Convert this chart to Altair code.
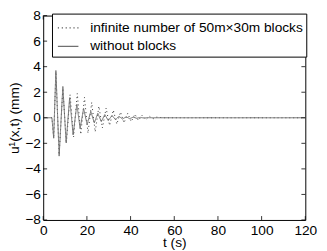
import altair as alt
import pandas as pd

# "without blocks" series (extrema)
t_wo = [0, 4.0, 4.8, 5.8, 7.3, 9.0, 10.5, 12.1, 13.7, 15.4, 16.9, 18.5, 20.1, 21.8,
        23.4, 25.0, 26.6, 28.2, 29.8, 31.5, 33.1, 34.7, 36.3, 38.0, 39.6, 41.2,
        42.8, 44.5, 46.1, 47.7, 50.0, 120]
u_wo = [0, 0, -1.6, 3.7, -3.0, 2.45, -1.95, 1.57, -1.34, 1.06, -0.83, 0.73, -0.53, 0.5,
        -0.4, 0.35, -0.3, 0.25, -0.22, 0.18, -0.15, 0.12, -0.1, 0.08, -0.07, 0.05,
        -0.04, 0.03, -0.02, 0.01, 0, 0]

# "infinite number of 50m x 30m blocks" series
t_bl = [0, 4.0, 4.8, 5.8, 7.3, 9.0, 10.6, 12.3, 13.9, 15.6, 17.2, 18.9, 20.5, 22.2,
        23.8, 25.5, 27.1, 28.8, 30.4, 32.1, 33.7, 35.4, 37.0, 38.7, 40.3, 42.0,
        43.6, 45.3, 47.0, 48.6, 50.3, 52.0, 55.0, 120]
u_bl = [0, 0, -1.6, 3.6, -2.9, 2.3, -2.0, 1.8, -1.5, 1.9, -1.3, 1.6, -1.2, 1.2,
        -1.1, 0.9, -0.8, 0.75, -0.6, 0.6, -0.5, 0.45, -0.4, 0.35, -0.3, 0.28,
        -0.22, 0.2, -0.15, 0.12, -0.08, 0.05, 0, 0]

names = ["infinite number of 50m\u00d730m blocks", "without blocks"]
x_ticks = [0, 20, 40, 60, 80, 100, 120]
y_ticks = [-8, -6, -4, -2, 0, 2, 4, 6, 8]

rows = []
for t, u in zip(t_bl, u_bl):
    rows.append({"t": t, "u": u, "series": names[0], "order": len(rows)})
for t, u in zip(t_wo, u_wo):
    rows.append({"t": t, "u": u, "series": names[1], "order": len(rows)})
df = pd.DataFrame(rows)

W, H = 268, 209
FONT = "Liberation Sans"
FS = 14

xs = alt.Scale(domain=[0, 120], nice=False)
ys = alt.Scale(domain=[-8, 8], nice=False)
x_axis = alt.Axis(values=x_ticks, title="t (s)", ticks=False, domain=False,
                  grid=False, labelFlush=False, labelOverlap=False,
                  labelPadding=4, titlePadding=-2)
y_axis = alt.Axis(values=y_ticks, title="u\u00b9(x,t) (mm)", ticks=False,
                  domain=False, grid=False, labelOverlap=False,
                  labelFlush=False, labelPadding=3, titlePadding=3)

lines = alt.Chart(df).mark_line(strokeWidth=1, clip=True).encode(
    x=alt.X("t:Q", scale=xs, axis=x_axis),
    y=alt.Y("u:Q", scale=ys, axis=y_axis),
    color=alt.Color("series:N", sort=names,
                    scale=alt.Scale(domain=names, range=["#333333", "#707070"]),
                    legend=alt.Legend(title=None, orient="none", legendX=9, legendY=-2,
                                      symbolType="stroke", symbolSize=441,
                                      symbolOffset=2,
                                      symbolStrokeWidth=1.2, labelLimit=0,
                                      labelFont=FONT, labelFontSize=FS,
                                      labelColor="black", labelOffset=11,
                                      strokeColor="black", fillColor="white",
                                      padding=3, rowPadding=-5)),
    strokeDash=alt.StrokeDash("series:N", sort=names,
                              scale=alt.Scale(domain=names, range=[[1, 3], [1, 0]]),
                              legend=None),
    order="order:Q",
)

xt = pd.DataFrame({"v": x_ticks})
yt = pd.DataFrame({"v": y_ticks})

tb = alt.Chart(xt).mark_rule(color="black", strokeWidth=0.8).encode(
    x=alt.X("v:Q", scale=xs, axis=x_axis), y=alt.value(H), y2=alt.value(H - 4))
tt = alt.Chart(xt).mark_rule(color="black", strokeWidth=0.8).encode(
    x=alt.X("v:Q", scale=xs, axis=x_axis), y=alt.value(0), y2=alt.value(4))
tl = alt.Chart(yt).mark_rule(color="black", strokeWidth=0.8).encode(
    y=alt.Y("v:Q", scale=ys, axis=y_axis), x=alt.value(0), x2=alt.value(4))
tr = alt.Chart(yt).mark_rule(color="black", strokeWidth=0.8).encode(
    y=alt.Y("v:Q", scale=ys, axis=y_axis), x=alt.value(W), x2=alt.value(W - 4))

chart = alt.layer(lines, tb, tt, tl, tr).properties(
    width=W, height=H,
    padding={"left": 36, "top": 5, "right": 14, "bottom": 30},
    autosize=alt.AutoSizeParams(type="none"),
).configure_view(stroke="black", strokeWidth=1).configure_axis(
    labelFont=FONT, labelFontSize=FS, labelColor="black",
    titleFont=FONT, titleFontSize=FS, titleColor="black", titleFontWeight="normal",
)

chart.save("out.html", embed_options={"renderer": "svg", "actions": False})
